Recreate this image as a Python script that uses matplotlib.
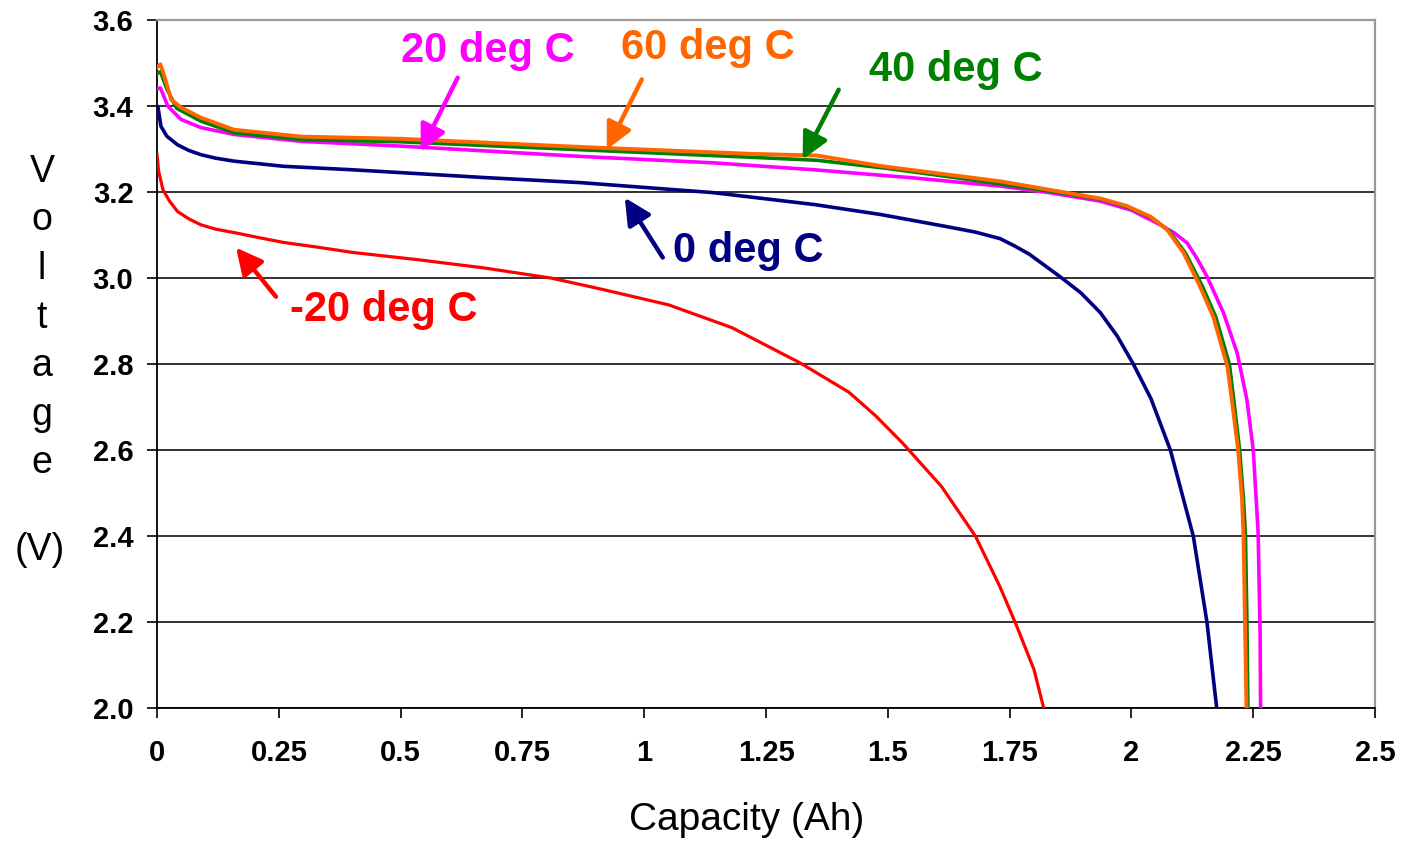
import numpy as np
import matplotlib.pyplot as plt

# discharge curves: capacity (Ah) vs voltage (V)
cap_m20 = [0, 0.003, 0.012, 0.025, 0.042, 0.065, 0.09, 0.12, 0.158, 0.21, 0.26, 0.33, 0.40,
           0.535, 0.67, 0.81, 0.91, 1.05, 1.18, 1.32, 1.42, 1.475, 1.53, 1.61, 1.68, 1.73, 1.765,
           1.80, 1.82]
v_m20 = [3.287, 3.25, 3.206, 3.18, 3.155, 3.138, 3.124, 3.114, 3.106, 3.094, 3.083, 3.072, 3.06,
         3.043, 3.024, 3.0, 2.975, 2.938, 2.885, 2.803, 2.735, 2.68, 2.617, 2.516, 2.40, 2.283,
         2.19, 2.09, 2.0]

cap_0 = [0, 0.002, 0.008, 0.02, 0.042, 0.065, 0.09, 0.12, 0.158, 0.26, 0.40, 0.535, 0.67, 0.87,
         1.14, 1.35, 1.485, 1.62, 1.68, 1.73, 1.76, 1.79, 1.854, 1.896, 1.936, 1.971, 2.004, 2.04,
         2.08, 2.127, 2.155, 2.175]
v_0 = [3.40, 3.397, 3.353, 3.33, 3.31, 3.297, 3.287, 3.279, 3.272, 3.26, 3.252, 3.243, 3.234, 3.222,
       3.199, 3.171, 3.148, 3.12, 3.107, 3.092, 3.075, 3.056, 3.003, 2.966, 2.92, 2.865, 2.80, 2.72,
       2.60, 2.40, 2.20, 2.0]

cap_20 = [0, 0.007, 0.022, 0.049, 0.09, 0.158, 0.296, 0.50, 0.87, 1.143, 1.348, 1.553, 1.731,
          1.836, 1.936, 2.0, 2.059, 2.087, 2.114, 2.135, 2.155, 2.189, 2.217, 2.237, 2.25, 2.26,
          2.264, 2.265]
v_20 = [3.44, 3.442, 3.40, 3.369, 3.35, 3.334, 3.318, 3.307, 3.283, 3.268, 3.252, 3.233, 3.214,
        3.198, 3.179, 3.158, 3.124, 3.106, 3.082, 3.045, 3.004, 2.919, 2.826, 2.717, 2.60, 2.408,
        2.176, 2.0]

cap_40 = [0, 0.007, 0.02, 0.04, 0.09, 0.158, 0.3, 0.5, 0.9, 1.2, 1.355, 1.5, 1.65, 1.834, 1.94,
          1.993, 2.042, 2.077, 2.111, 2.146, 2.173, 2.201, 2.21, 2.222, 2.23, 2.234, 2.237, 2.239]
v_40 = [3.475, 3.48, 3.44, 3.395, 3.365, 3.338, 3.322, 3.317, 3.297, 3.282, 3.274, 3.255, 3.232,
        3.202, 3.183, 3.165, 3.14, 3.11, 3.058, 2.98, 2.91, 2.80, 2.717, 2.60, 2.485, 2.40, 2.2, 2.0]

cap_60 = [0, 0.007, 0.015, 0.029, 0.049, 0.09, 0.158, 0.296, 0.50, 0.81, 0.91, 1.218, 1.355, 1.49,
          1.628, 1.731, 1.834, 1.937, 1.99, 2.039, 2.073, 2.107, 2.141, 2.168, 2.197, 2.206, 2.219,
          2.227, 2.23, 2.233, 2.236]
v_60 = [3.49, 3.497, 3.469, 3.415, 3.397, 3.373, 3.345, 3.329, 3.324, 3.308, 3.303, 3.289, 3.285,
        3.26, 3.24, 3.225, 3.205, 3.185, 3.168, 3.143, 3.113, 3.059, 2.98, 2.91, 2.794, 2.717, 2.60,
        2.485, 2.40, 2.2, 2.0]

x_ticks = [0, 0.25, 0.5, 0.75, 1, 1.25, 1.5, 1.75, 2, 2.25, 2.5]
x_tick_labels = ['0', '0.25', '0.5', '0.75', '1', '1.25', '1.5', '1.75', '2', '2.25', '2.5']
y_ticks = [2.0, 2.2, 2.4, 2.6, 2.8, 3.0, 3.2, 3.4, 3.6]

plt.rcParams['font.family'] = ['Liberation Sans', 'DejaVu Sans']

fig = plt.figure(figsize=(14.01, 8.41), dpi=100)
ax = fig.add_axes([0.1121, 0.1576, 0.9815 - 0.1121, 0.9762 - 0.1576])

ax.plot(cap_m20, v_m20, color='#ff0000', lw=2.3, zorder=3)
ax.plot(cap_0, v_0, color='#000080', lw=2.6, zorder=3)
ax.plot(cap_20, v_20, color='#ff00ff', lw=2.6, zorder=3)
ax.plot(cap_40, v_40, color='#008000', lw=2.6, zorder=3)
ax.plot(cap_60, v_60, color='#ff6600', lw=2.8, zorder=3)

ax.set_xlim(0, 2.5)
ax.set_ylim(2.0, 3.6)
ax.set_xticks(x_ticks)
ax.set_xticklabels(x_tick_labels)
ax.set_yticks(y_ticks)
ax.set_yticklabels(['%.1f' % v for v in y_ticks])
for lab in ax.get_xticklabels() + ax.get_yticklabels():
    lab.set_fontweight('bold')
    lab.set_fontsize(21)
ax.tick_params(axis='y', direction='out', length=7, width=1.2, pad=10)
ax.tick_params(axis='x', direction='out', length=7, width=1.2, pad=15)

ax.yaxis.grid(True, color='#222222', lw=1.3, zorder=1)
ax.set_axisbelow(True)
ax.spines['top'].set_color('#999999')
ax.spines['right'].set_color('#999999')
ax.spines['top'].set_linewidth(1.6)
ax.spines['right'].set_linewidth(1.6)
ax.spines['left'].set_linewidth(1.3)
ax.spines['bottom'].set_linewidth(1.3)

# curve labels with arrows: (text, colour, text pos, arrow tail, arrow tip)
notes = [
    ('-20 deg C', '#ff0000', (0.466, 2.925), (0.244, 2.957), (0.162, 3.071)),
    ('0 deg C', '#000080', (1.214, 3.064), (1.038, 3.048), (0.960, 3.187)),
    ('20 deg C', '#ff00ff', (0.679, 3.529), (0.617, 3.466), (0.541, 3.294)),
    ('60 deg C', '#ff6600', (1.130, 3.534), (0.995, 3.462), (0.923, 3.299)),
    ('40 deg C', '#008000', (1.639, 3.483), (1.399, 3.438), (1.325, 3.276)),
]
for txt, col, pos, tail, tip in notes:
    ax.text(pos[0], pos[1], txt, color=col, fontsize=30, fontweight='bold',
            ha='center', va='center', zorder=5)
    ax.annotate('', xy=tip, xytext=tail,
                arrowprops=dict(arrowstyle='-|>', color=col, lw=3.2,
                                mutation_scale=40, shrinkA=0, shrinkB=0),
                zorder=5)

fig.text(0.5332, 1 - 820 / 841, 'Capacity (Ah)', fontsize=28, ha='center', va='center')

# stacked vertical y label
letters = ['V', 'o', 'l', 't', 'a', 'g', 'e']
for i, ch in enumerate(letters):
    fig.text(42 / 1401, 1 - (182 + 48.5 * i) / 841, ch, fontsize=27,
             ha='center', va='baseline')
fig.text(40 / 1401, 1 - 560 / 841, '(V)', fontsize=27, ha='center', va='baseline')

fig.savefig('out.png', dpi=100)
